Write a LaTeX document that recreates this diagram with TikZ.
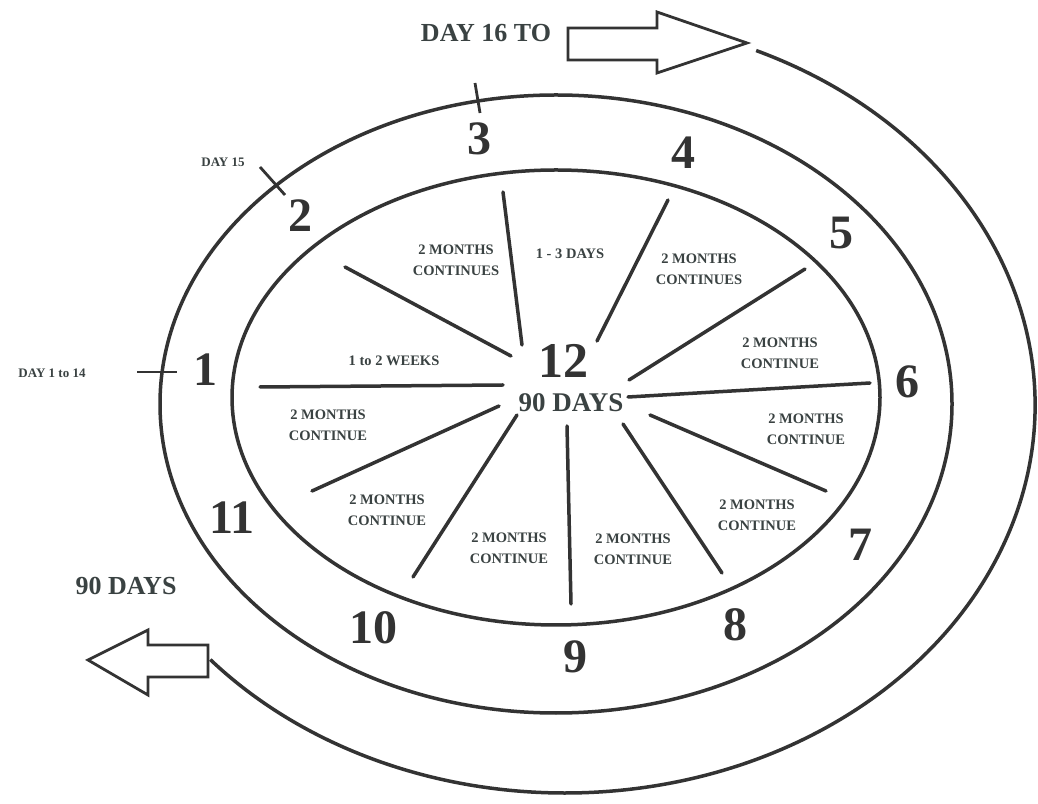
\documentclass[tikz,border=0pt]{standalone}
\usepackage{fontspec}
\setmainfont{Liberation Serif}
\definecolor{ink}{HTML}{333333}
\definecolor{txt}{HTML}{3A4242}
\begin{document}
\begin{tikzpicture}[x=1pt,y=1pt,
  ring/.style={draw=ink,line width=3.5pt},
  spoke/.style={draw=ink,line width=3.5pt,line cap=round},
  tick/.style={draw=ink,line width=2.8pt},
  blockarrow/.style={draw=ink,line width=2.8pt,line join=miter},
  sector/.style={text=txt,font=\fontsize{14.5}{21}\selectfont\bfseries,align=center,inner sep=0pt},
  hour/.style={text=ink,font=\fontsize{48}{48}\selectfont\bfseries,inner sep=0pt},
  small/.style={text=txt,font=\fontsize{13}{15}\selectfont\bfseries,inner sep=0pt},
  big/.style={text=txt,font=\fontsize{26}{28}\selectfont\bfseries,inner sep=0pt}]
\useasboundingbox (0,0) rectangle (1038,803);
\fill[white] (0,0) rectangle (1038,803);

% rings
\draw[ring] (556,405.5) ellipse [x radius=324, y radius=227.5];
\draw[ring] (556,399) ellipse [x radius=396, y radius=309];
% outer spiral
\draw[ring] ([shift={(565,398)}]66:470 and 388) arc[start angle=66, end angle=-139, x radius=470, y radius=388];

% spokes
\coordinate (s1a) at (260,416); \coordinate (s1b) at (503,418);
\coordinate (s2a) at (345,536); \coordinate (s2b) at (511,447);
\coordinate (s3a) at (503,611); \coordinate (s3b) at (522,458);
\coordinate (s4a) at (668,603); \coordinate (s4b) at (597,462);
\coordinate (s5a) at (805,534); \coordinate (s5b) at (629,423);
\coordinate (s6a) at (628,406); \coordinate (s6b) at (870,420);
\coordinate (s7a) at (650,388); \coordinate (s7b) at (826,312);
\coordinate (s8a) at (623,379); \coordinate (s8b) at (722,230);
\coordinate (s9a) at (567,377); \coordinate (s9b) at (571,199);
\coordinate (s10a) at (517,388); \coordinate (s10b) at (413,226);
\coordinate (s11a) at (499,397); \coordinate (s11b) at (312,312);
\foreach \i in {1,...,11} {\draw[spoke] (s\i a) -- (s\i b);}

% centre text
\node[text=ink,font=\fontsize{50}{50}\selectfont\bfseries,inner sep=0pt] (c12) at (563,442) {12};
\node[text=txt,font=\fontsize{27}{27}\selectfont\bfseries,inner sep=0pt] (c90) at (571,400) {90 DAYS};

% sector labels
\node[sector] (l1) at (394,442) {1 to 2 WEEKS};
\node[sector] (l2) at (456,543) {2 MONTHS\\CONTINUES};
\node[sector] (l3) at (570,549) {1 - 3 DAYS};
\node[sector] (l4) at (699,534) {2 MONTHS\\CONTINUES};
\node[sector] (l5) at (780,450) {2 MONTHS\\CONTINUE};
\node[sector] (l6) at (806,374) {2 MONTHS\\CONTINUE};
\node[sector] (l7) at (757,288) {2 MONTHS\\CONTINUE};
\node[sector] (l8) at (633,254) {2 MONTHS\\CONTINUE};
\node[sector] (l9) at (509,255) {2 MONTHS\\CONTINUE};
\node[sector] (l10) at (387,293) {2 MONTHS\\CONTINUE};
\node[sector] (l11) at (328,378) {2 MONTHS\\CONTINUE};

% hour numbers
\node[hour] (h1) at (205,433) {1};
\node[hour] (h2) at (300,587) {2};
\node[hour] (h3) at (479,664) {3};
\node[hour] (h4) at (683,650) {4};
\node[hour] (h5) at (841,570) {5};
\node[hour] (h6) at (907,421) {6};
\node[hour] (h7) at (860,258) {7};
\node[hour] (h8) at (735,178) {8};
\node[hour] (h9) at (575,146) {9};
\node[hour] (h10) at (373,175) {10};
\node[hour] (h11) at (232,285) {11};

% ticks
\coordinate (t1a) at (137,431); \coordinate (t1b) at (177,431);
\coordinate (t2a) at (260,636); \coordinate (t2b) at (285,608);
\coordinate (t3a) at (475,720); \coordinate (t3b) at (480,690);
\draw[tick] (t1a) -- (t1b);
\draw[tick] (t2a) -- (t2b);
\draw[tick] (t3a) -- (t3b);

% outside labels
\node[small] (d15) at (223,641) {DAY 15};
\node[small] (d114) at (52,430) {DAY 1 to 14};
\node[big] (d16) at (486,770) {DAY 16 TO};
\node[big] (d90) at (126,217) {90 DAYS};

% block arrows
\draw[blockarrow] (568,775) -- (657,775) -- (657,791) -- (747,760) -- (657,730) -- (657,743) -- (568,743) -- cycle;
\draw[blockarrow] (88,143) -- (148,173) -- (148,158) -- (208,158) -- (208,126) -- (148,126) -- (148,108) -- cycle;
\end{tikzpicture}
\end{document}
